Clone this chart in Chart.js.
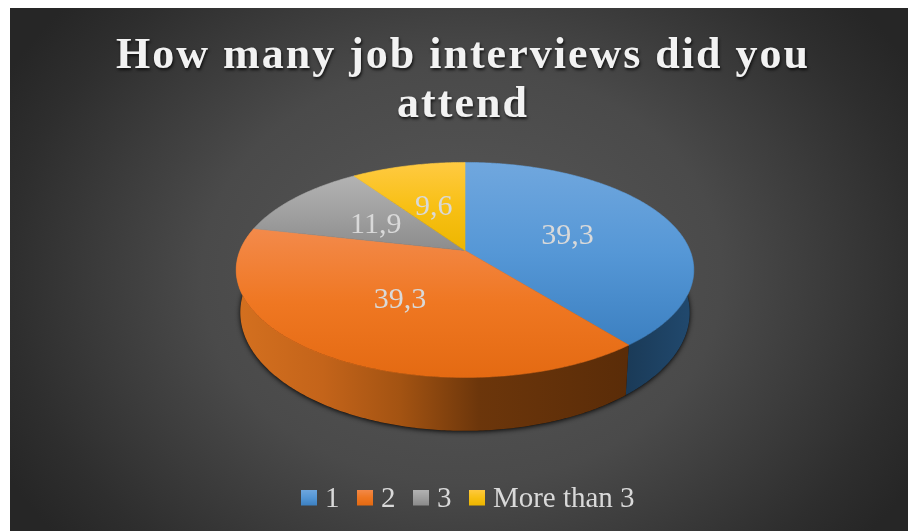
<!DOCTYPE html>
<html>
<head>
<meta charset="utf-8">
<style>html,body{margin:0;padding:0;background:#fff}#wrap{width:908px;height:531px}</style>
<script src="https://cdn.jsdelivr.net/npm/chart.js@4"></script>
</head>
<body>
<div id="wrap"><canvas id="c" width="908" height="531"></canvas></div>
<script>
const categories = ['1', '2', '3', 'More than 3'];
const shares = [39.3, 39.3, 11.9, 9.6];
const titleLines = ['How many job interviews did you', 'attend'];

// Colour ramps for each slice's top face and legend swatch.
const faceLight = ['#70a7de', '#f38a4b', '#b3b3b3', '#ffca42'];
const faceMid = ['#5597d6', '#ef7722', '#a0a0a0', '#f8c015'];
const faceDeep = ['#3c80c1', '#e46a12', '#8c8c8c', '#edb600'];

// Perspective disc: apex position, half-axes and foreshortening for the top and base rims.
const TILT = -0.181;
const TOP_RIM = { cx: 465, cy: 250.5, a: 225, b: 104 };
const BASE_RIM = { cx: 465, cy: 291, a: 221, b: 114.5 };
const TITLE_SHIFT = 9, LEGEND_SHIFT = 17.5;

function project(rim, theta, r) {
  const u = Math.sin(theta) * r, v = -Math.cos(theta) * r;
  const w = 1 + TILT * v;
  return [rim.cx + rim.a * u / w, rim.cy + rim.b * v / w];
}

function tracePolygon(ctx, pts) {
  ctx.beginPath();
  pts.forEach((p, i) => i ? ctx.lineTo(p[0], p[1]) : ctx.moveTo(p[0], p[1]));
  ctx.closePath();
}

function rimPoints(rim, from, to) {
  const n = Math.max(8, Math.ceil((to - from) * 90));
  const pts = [];
  for (let i = 0; i <= n; i++) pts.push(project(rim, from + (to - from) * i / n, 1));
  return pts;
}

function faceRamp(g, i) {
  g.addColorStop(0, faceLight[i]);
  g.addColorStop(0.5, faceMid[i]);
  g.addColorStop(1, faceDeep[i]);
  return g;
}

// Legend swatch: a square sitting at the top of a slightly taller tile, to lift it beside the text.
function swatch(i) {
  const c = document.createElement('canvas');
  c.width = 16; c.height = 20;
  const g = c.getContext('2d');
  g.fillStyle = faceRamp(g.createLinearGradient(0, 0, 0, 16), i);
  g.fillRect(0, 0, 16, 16);
  return c;
}

const backdrop = {
  id: 'backdrop',
  beforeDraw(chart) {
    const ctx = chart.ctx;
    ctx.save();
    ctx.fillStyle = '#ffffff';
    ctx.fillRect(0, 0, 908, 531);
    ctx.beginPath();
    ctx.rect(10, 8, 898, 523);
    ctx.clip();
    ctx.translate(462, 275);
    ctx.scale(1, 0.8);
    const g = ctx.createRadialGradient(0, 0, 0, 0, 0, 520);
    g.addColorStop(0, '#585858');
    g.addColorStop(0.5, '#4a4a4a');
    g.addColorStop(0.87, '#2e2e2e');
    g.addColorStop(1, '#262626');
    ctx.fillStyle = g;
    ctx.fillRect(-600, -700, 1200, 1400);
    ctx.restore();
    // Spaced, shadowed title and nudged legend are applied around the library's own box drawing.
    if (!chart.$wrapped) {
      chart.$wrapped = true;
      const title = chart.titleBlock, legend = chart.legend;
      const drawTitle = title.draw, drawLegend = legend.draw;
      title.draw = function () {
        ctx.save();
        ctx.translate(TITLE_SHIFT, 0);
        ctx.letterSpacing = '2px';
        ctx.shadowColor = 'rgba(0,0,0,0.75)';
        ctx.shadowBlur = 3;
        ctx.shadowOffsetX = 1;
        ctx.shadowOffsetY = 2;
        drawTitle.call(title);
        ctx.restore();
      };
      legend.draw = function () {
        ctx.save();
        ctx.translate(LEGEND_SHIFT, 0);
        drawLegend.call(legend);
        ctx.restore();
      };
    }
  }
};

// Paints the slices from the arc angles computed by the doughnut controller.
const disc = {
  id: 'disc',
  beforeDatasetDraw(chart, args) {
    const ctx = chart.ctx;
    const arcs = chart.getDatasetMeta(args.index).data;
    const ang = arcs.map(a => [a.startAngle + Math.PI / 2, a.endAngle + Math.PI / 2]);

    // Ground shadow hugging the base.
    ctx.save();
    ctx.shadowColor = 'rgba(0,0,0,0.9)';
    ctx.shadowBlur = 5;
    ctx.shadowOffsetY = 1;
    ctx.fillStyle = '#111';
    tracePolygon(ctx, rimPoints(BASE_RIM, 0, Math.PI * 2));
    ctx.fill();
    ctx.restore();

    // Outer wall of the two front slices.
    const wall = [
      [[0, '#1a3a57'], [1, '#21496e']],
      [[0, '#d4701f'], [0.22, '#c4641a'], [0.42, '#a35312'], [0.62, '#6c360b'], [1, '#5a2c08']]
    ];
    [0, 1].forEach(i => {
      const [s, e] = ang[i];
      const top = rimPoints(TOP_RIM, s, e);
      const base = rimPoints(BASE_RIM, s, e).reverse();
      const g = i === 0 ? ctx.createLinearGradient(625, 0, 692, 0) : ctx.createLinearGradient(236, 0, 628, 0);
      wall[i].forEach(st => g.addColorStop(st[0], st[1]));
      ctx.fillStyle = g;
      tracePolygon(ctx, top.concat(base));
      ctx.fill();
    });

    // Top faces.
    arcs.forEach((a, i) => {
      const [s, e] = ang[i];
      const pts = [[TOP_RIM.cx, TOP_RIM.cy]].concat(rimPoints(TOP_RIM, s, e));
      const ys = pts.map(p => p[1]);
      const g = faceRamp(ctx.createLinearGradient(0, Math.min(...ys), 0, Math.max(...ys)), i);
      ctx.fillStyle = g;
      tracePolygon(ctx, pts);
      ctx.fill();
      ctx.strokeStyle = g;
      ctx.lineWidth = 0.6;
      ctx.stroke();
    });
    return false;
  },
  afterDatasetsDraw(chart) {
    const ctx = chart.ctx;
    const arcs = chart.getDatasetMeta(0).data;
    ctx.save();
    ctx.font = '30px "Liberation Serif"';
    ctx.fillStyle = '#d9d9d9';
    ctx.textAlign = 'center';
    ctx.textBaseline = 'middle';
    arcs.forEach((a, i) => {
      const mid = (a.startAngle + a.endAngle) / 2 + Math.PI / 2;
      const p = project(TOP_RIM, mid, 0.5);
      ctx.fillText(String(shares[i]).replace('.', ','), p[0] - 0.5, p[1] + 2);
    });
    ctx.restore();
  }
};

new Chart(document.getElementById('c'), {
  type: 'pie',
  data: {
    labels: categories,
    datasets: [{ data: shares, backgroundColor: faceDeep, borderWidth: 0 }]
  },
  options: {
    responsive: false,
    animation: false,
    layout: { padding: { top: 32, bottom: 7 } },
    plugins: {
      tooltip: { enabled: false },
      title: {
        display: true,
        text: titleLines,
        color: '#f2f2f2',
        font: { family: '"Liberation Serif"', size: 44, weight: 'bold', lineHeight: 1.114 },
        padding: 0
      },
      legend: {
        position: 'bottom',
        onClick: null,
        labels: {
          color: '#d9d9d9',
          font: { family: '"Liberation Serif"', size: 29 },
          usePointStyle: true,
          pointStyleWidth: 2,
          padding: 25,
          generateLabels: () => categories.map((t, i) => ({
            text: t, pointStyle: swatch(i), fontColor: '#d9d9d9', lineWidth: 0, index: i, datasetIndex: 0
          }))
        }
      }
    }
  },
  plugins: [backdrop, disc]
});
</script>
</body>
</html>
